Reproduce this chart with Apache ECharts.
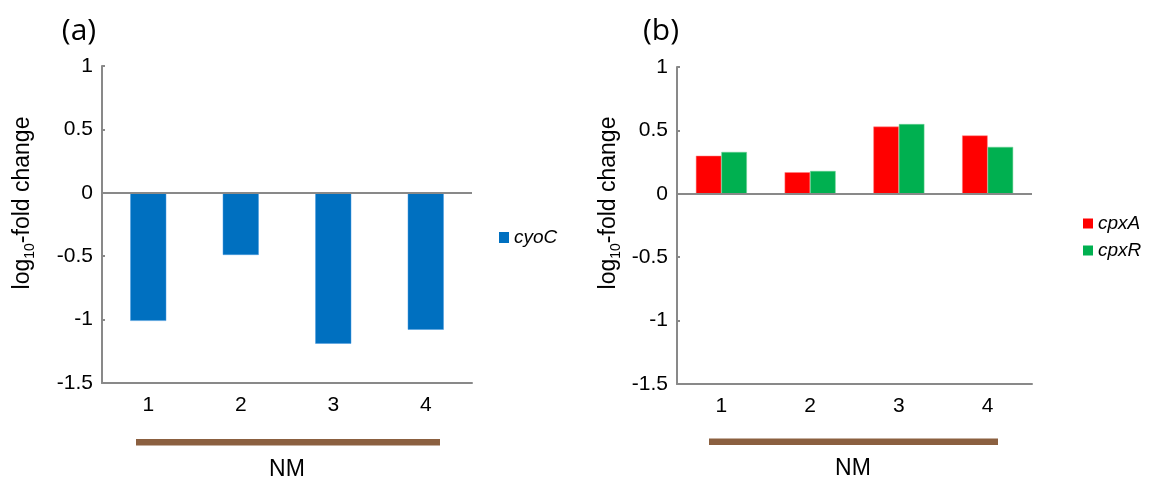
<!DOCTYPE html>
<html>
<head>
<meta charset="utf-8">
<script src="https://cdn.jsdelivr.net/npm/echarts@6/dist/echarts.min.js"></script>
<style>
  html, body { margin: 0; padding: 0; background: #fff; }
  #chart { width: 1150px; height: 489px; }
</style>
</head>
<body>
<div id="chart"></div>
<script>
// Sample groups along the x axis
const categories = ['1', '2', '3', '4'];
// Y-axis ticks shared by both panels
const yTicks = [-1.5, -1, -0.5, 0, 0.5, 1];

// Panel (a): cyoC expression
const cyoC = [-1.01, -0.49, -1.19, -1.08];
// Panel (b): cpxA / cpxR expression
const cpxA = [0.30, 0.17, 0.53, 0.46];
const cpxR = [0.33, 0.18, 0.55, 0.37];

const FONT = '"Liberation Sans", Arial, sans-serif';
const AXIS_GREY = '#898989';
const BROWN = '#8B6040';

function yAxisDef(gridIndex) {
  return {
    type: 'value', gridIndex,
    min: yTicks[0], max: yTicks[yTicks.length - 1], interval: 0.5,
    axisLine: { show: true, lineStyle: { color: AXIS_GREY, width: 2 } },
    axisTick: { show: true, inside: true, length: 3, lineStyle: { color: AXIS_GREY, width: 2 } },
    splitLine: { show: false },
    axisLabel: { color: '#000', fontSize: 21, fontFamily: FONT, margin: 9,
      formatter: v => String(v) }
  };
}
function xAxisDef(gridIndex) {
  return {
    type: 'category', gridIndex, data: categories,
    axisLine: { show: true, onZero: false, lineStyle: { color: AXIS_GREY, width: 2 } },
    axisTick: { show: false },
    axisLabel: { color: '#000', fontSize: 21, fontFamily: FONT, margin: 12 }
  };
}
const zeroLine = {
  silent: true, symbol: 'none', label: { show: false },
  lineStyle: { color: AXIS_GREY, width: 2, type: 'solid' },
  data: [{ yAxis: 0 }]
};

function yTitle(cx, cy) {
  return {
    type: 'text', x: cx, y: cy, rotation: Math.PI / 2,
    style: {
      text: '{m|log}{s|10}{m|-fold change}',
      align: 'center', verticalAlign: 'middle',
      rich: {
        m: { fontSize: 23, fontFamily: FONT, fill: '#000', lineHeight: 28, verticalAlign: 'middle' },
        s: { fontSize: 14, fontFamily: FONT, fill: '#000', lineHeight: 14, verticalAlign: 'bottom' }
      }
    }
  };
}

const legendText = { fontSize: 19, fontStyle: 'italic', fontFamily: FONT, color: '#000' };

const chart = echarts.init(document.getElementById('chart'), null, { renderer: 'canvas' });
chart.setOption({
  backgroundColor: '#fff',
  animation: false,
  grid: [
    { left: 102, top: 66, width: 370, height: 317 },
    { left: 677, top: 67, width: 355, height: 317 }
  ],
  xAxis: [xAxisDef(0), xAxisDef(1)],
  yAxis: [yAxisDef(0), yAxisDef(1)],
  legend: [
    {
      data: ['cyoC'], left: 494, top: 223, icon: 'rect', itemWidth: 10, itemHeight: 11,
      itemGap: 11, itemStyle: { borderWidth: 0 }, textStyle: legendText
    },
    {
      data: ['cpxA', 'cpxR'], orient: 'vertical', left: 1078, top: 209, icon: 'rect',
      itemWidth: 10, itemHeight: 10, itemGap: 8, itemStyle: { borderWidth: 0 },
      textStyle: legendText
    }
  ],
  series: [
    {
      name: 'cyoC', type: 'bar', xAxisIndex: 0, yAxisIndex: 0, data: cyoC,
      barWidth: 36, itemStyle: { color: '#0070C0', borderColor: '#4a9be0', borderWidth: 0.5 },
      markLine: zeroLine
    },
    {
      name: 'cpxA', type: 'bar', xAxisIndex: 1, yAxisIndex: 1, data: cpxA,
      barWidth: 25.5, barGap: '0%', itemStyle: { color: '#FF0000', borderColor: '#ff8080', borderWidth: 0.5 },
      markLine: zeroLine
    },
    {
      name: 'cpxR', type: 'bar', xAxisIndex: 1, yAxisIndex: 1, data: cpxR,
      barWidth: 25.5, barGap: '0%', itemStyle: { color: '#00B050', borderColor: '#70d098', borderWidth: 0.5 }
    }
  ],
  graphic: [
    { type: 'text', x: 79, y: 31, style: { text: '(a)', fontSize: 30, fontFamily: '"Open Sans", sans-serif', fill: '#000', align: 'center', verticalAlign: 'middle' } },
    { type: 'text', x: 661, y: 31, style: { text: '(b)', fontSize: 30, fontFamily: '"Open Sans", sans-serif', fill: '#000', align: 'center', verticalAlign: 'middle' } },
    yTitle(23, 203),
    yTitle(609, 203),
    // Group bracket under the categories, with its label
    { type: 'rect', shape: { x: 136, y: 439, width: 304, height: 6.5 }, style: { fill: BROWN } },
    { type: 'text', x: 287, y: 470, style: { text: 'NM', fontSize: 23, fontFamily: FONT, fill: '#000', align: 'center', verticalAlign: 'middle' } },
    { type: 'rect', shape: { x: 709, y: 438.5, width: 289, height: 6.5 }, style: { fill: BROWN } },
    { type: 'text', x: 853, y: 469, style: { text: 'NM', fontSize: 23, fontFamily: FONT, fill: '#000', align: 'center', verticalAlign: 'middle' } }
  ]
});
</script>
</body>
</html>
